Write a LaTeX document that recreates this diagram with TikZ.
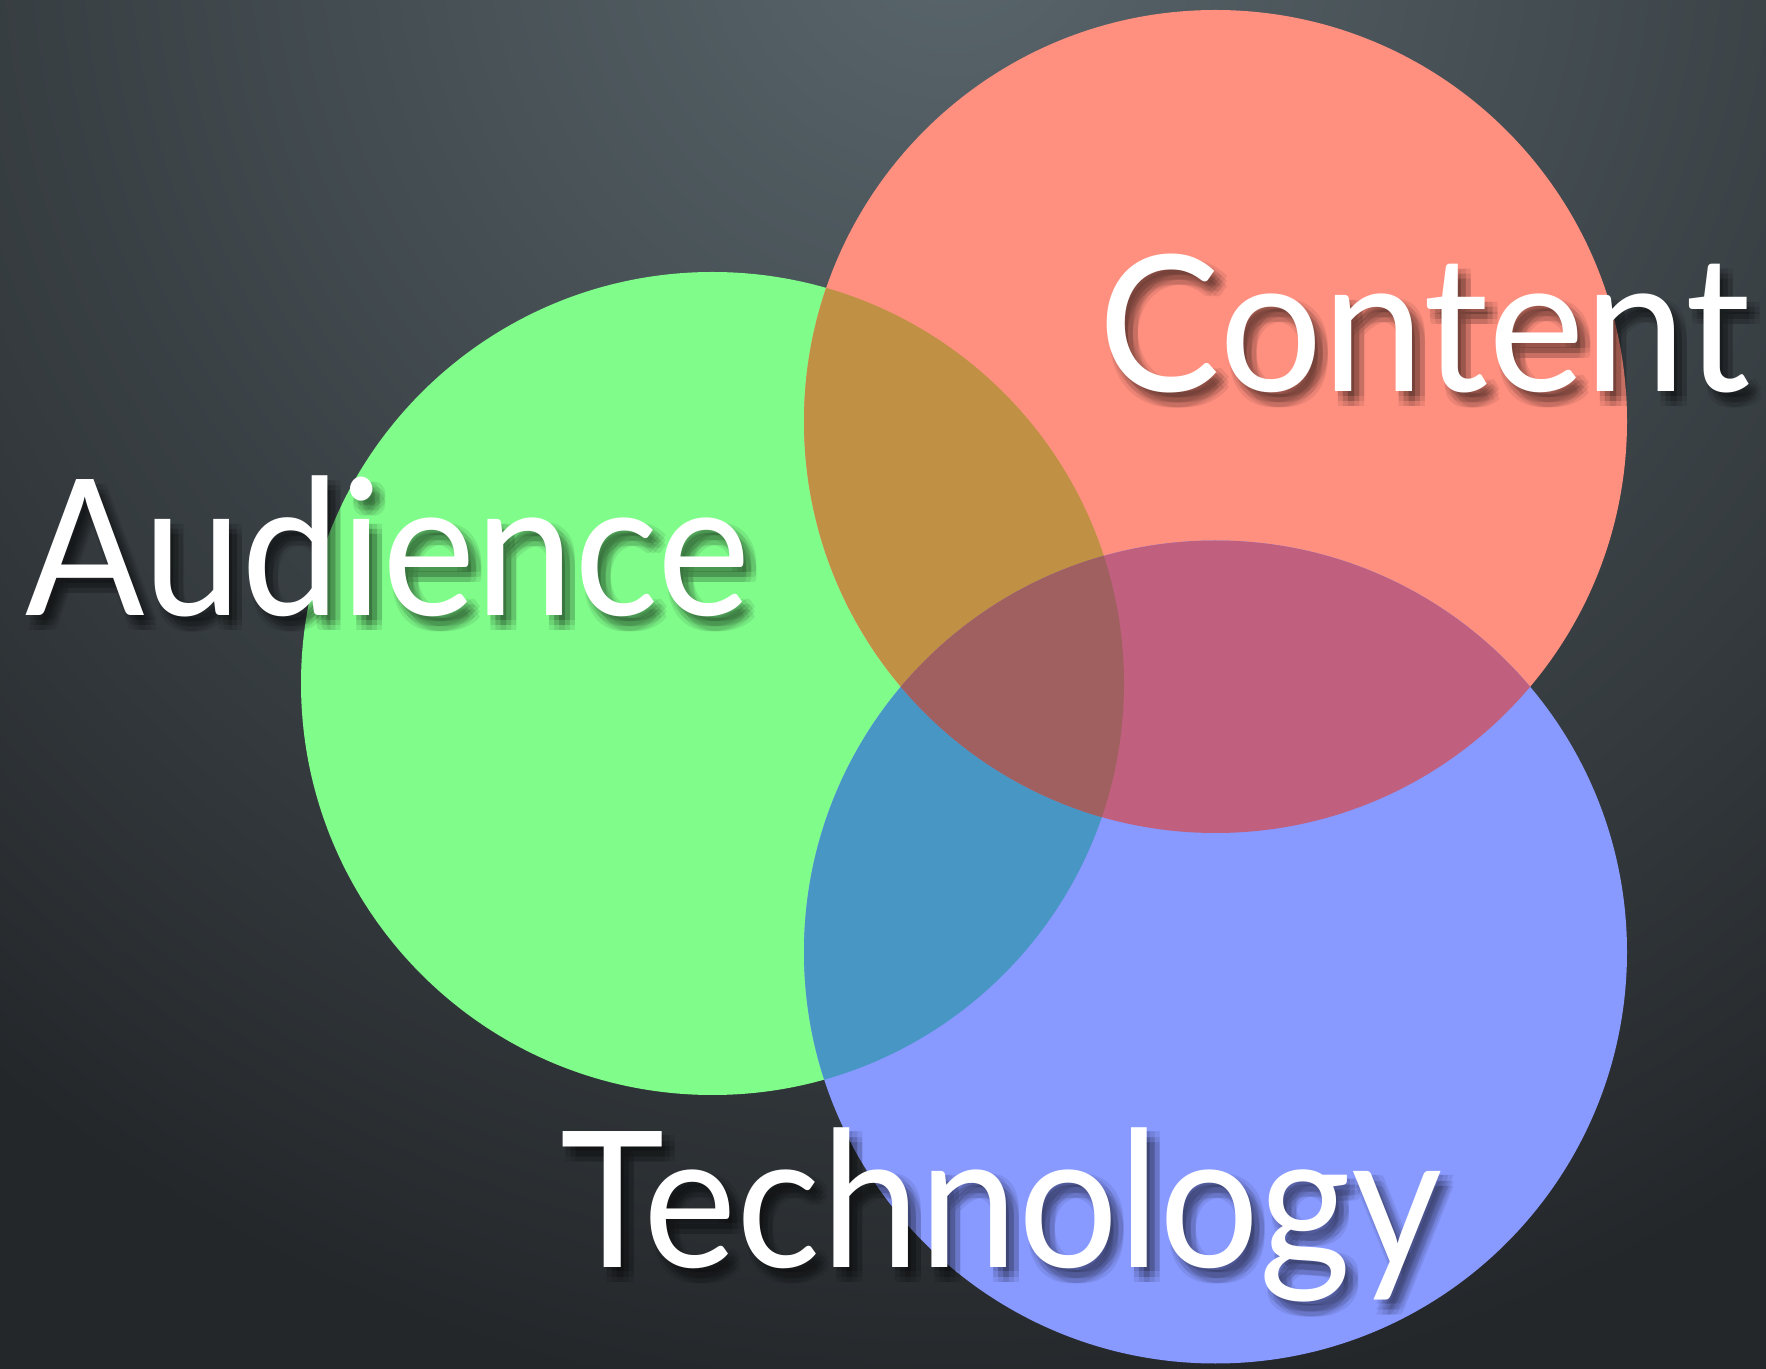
\documentclass[tikz,border=0pt]{standalone}
\usepackage{fontspec}
\setmainfont{Lato}[FakeStretch=0.93]
\definecolor{bglight}{HTML}{59666C}
\definecolor{bgdark}{HTML}{24272A}
\definecolor{audgreen}{HTML}{80FC8A}
\definecolor{conred}{HTML}{FF9080}
\definecolor{tecblue}{HTML}{8899FF}
\definecolor{audcon}{HTML}{C09044}
\definecolor{contec}{HTML}{C0607E}
\definecolor{audtec}{HTML}{4896C4}
\definecolor{allthree}{HTML}{A06060}
\newcommand{\contentword}{\scalebox{1.035}[1]{Content}}
\tikzset{
  labeltext/.style={text=white, font=\fontsize{54}{60}\selectfont, inner sep=0pt, anchor=base west},
  labelshadow/.style={labeltext, text=black, text opacity=0.08},
}
\begin{document}
\begin{tikzpicture}[line join=round, line cap=round]
  \useasboundingbox (0,0) rectangle (17.66,-13.69);
  % background
  \begin{scope}
    \clip (0,0) rectangle (17.66,-13.69);
    \fill[bgdark] (0,0) rectangle (17.66,-13.69);
    \shade[inner color=bglight, outer color=bgdark] (9.5,0.8) circle (15);
  \end{scope}
  % circle centres
  \def\rad{4.115}
  \coordinate (aud) at (7.125,-6.835);
  \coordinate (con) at (12.155,-4.215);
  \coordinate (tec) at (12.155,-9.52);
  \fill[audgreen] (aud) circle (\rad);
  \fill[conred] (con) circle (\rad);
  \fill[tecblue] (tec) circle (\rad);
  % overlaps
  \begin{scope}
    \clip (aud) circle (\rad);
    \fill[audcon] (con) circle (\rad);
    \fill[audtec] (tec) circle (\rad);
  \end{scope}
  \begin{scope}
    \clip (con) circle (\rad);
    \fill[contec] (tec) circle (\rad);
    \clip (tec) circle (\rad);
    \fill[allthree] (aud) circle (\rad);
  \end{scope}
  % soft shadows
  \foreach \dx in {0.03,0.08,0.13}{
    \foreach \dy in {-0.05,-0.10,-0.15}{
      \node[labelshadow] (audshade) at (0.25+\dx,-6.16+\dy) {Audience};
      \node[labelshadow] (conshade) at (10.98+\dx,-3.92+\dy) {\contentword};
      \node[labelshadow] (tecshade) at (5.60+\dx,-12.67+\dy) {Technology};
    }
  }
  % labels
  \node[labeltext] (audlabel) at (0.25,-6.16) {Audience};
  \node[labeltext] (conlabel) at (10.98,-3.92) {\contentword};
  \node[labeltext] (teclabel) at (5.60,-12.67) {Technology};
\end{tikzpicture}
\end{document}
